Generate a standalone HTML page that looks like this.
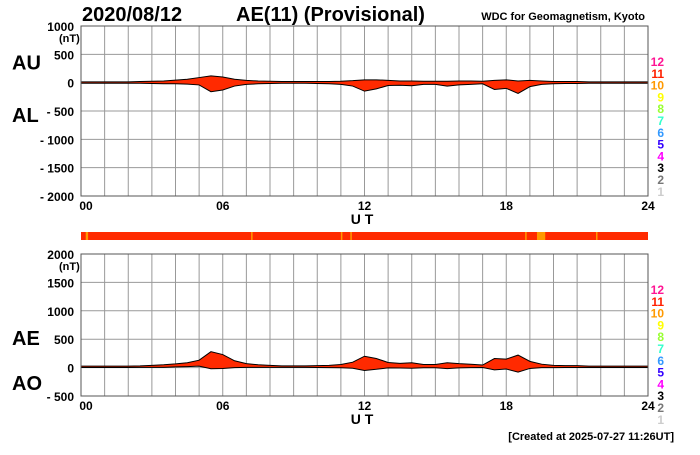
<!DOCTYPE html>
<html><head><meta charset="utf-8"><style>
body{margin:0;background:#fff;width:700px;height:450px;overflow:hidden;font-family:"Liberation Sans",sans-serif}
svg text{font-family:"Liberation Sans",sans-serif;font-weight:bold}
</style></head><body>
<svg id="c" width="700" height="450" xmlns="http://www.w3.org/2000/svg"></svg>
<script>
const hours=[0,0.5,1,1.5,2,2.5,3,3.5,4,4.5,5,5.5,6,6.5,7,7.5,8,8.5,9,9.5,10,10.5,11,11.5,12,12.5,13,13.5,14,14.5,15,15.5,16,16.5,17,17.5,18,18.5,19,19.5,20,20.5,21,21.5,22,22.5,23,23.5,24];
const auValues=[15,15,15,15,15,20,25,30,45,60,90,120,100,60,40,30,25,20,20,20,20,20,25,35,50,50,40,30,30,25,25,25,30,30,25,40,50,30,40,30,20,20,20,15,15,15,15,15,15];
const alValues=[-10,-10,-10,-10,-10,-10,-15,-20,-20,-25,-40,-160,-130,-60,-30,-20,-15,-10,-10,-10,-15,-20,-30,-60,-150,-110,-50,-45,-55,-30,-30,-60,-40,-30,-20,-120,-100,-190,-70,-30,-20,-15,-15,-10,-10,-10,-10,-10,-10];
const xTicks=["00","06","12","18","24"];
const yTicks1=[1000,500,0,-500,-1000,-1500,-2000];
const yTicks2=[2000,1500,1000,500,0,-500];
const legendNums=["12","11","10","9","8","7","6","5","4","3","2","1"];
const legendCols=["#ff1493","#ff2000","#ff9900","#ffff00","#99ff33","#33ffcc","#3399ff","#3300ff","#ff00ff","#000","#777","#ccc"];
const NS="http://www.w3.org/2000/svg",svg=document.getElementById('c');
function el(t,a,txt,p){const e=document.createElementNS(NS,t);for(const k in a)e.setAttribute(k,a[k]);if(txt!==undefined)e.textContent=txt;(p||svg).appendChild(e);return e;}
const X0=81,X1=648;
const x=h=>X0+(X1-X0)*h/24;
function panel(name,top,bot,vmax,vmin,ticks,upper,lower,labs){
  const g=el('g',{});
  const y=v=>top+(vmax-v)*(bot-top)/(vmax-vmin);
  for(let h=0;h<=24;h++){const l=el('line',{x1:x(h),x2:x(h),y1:top,y2:bot,stroke:'#999','stroke-width':1},undefined,g);}
  ticks.forEach(v=>{const l=el('line',{x1:X0,x2:X1,y1:y(v),y2:y(v),stroke:'#999','stroke-width':1},undefined,g);
    const t=el('text',{x:74,y:y(v)+5,'text-anchor':'end','font-size':12},(v<0?'- '+(-v):v),g);});
  const u=el('text',{x:59,y:y(ticks[0])+16,'font-size':11},'(nT)',g);
  let d='M'+hours.map((h,i)=>x(h)+','+y(upper[i])).join('L');
  d+='L'+hours.slice().reverse().map((h,j)=>x(h)+','+y(lower[hours.length-1-j])).join('L')+'Z';
  const p=el('path',{d:d,fill:'#ff2a00',stroke:'#000','stroke-width':1},undefined,g);
  el('rect',{x:X0,y:top,width:X1-X0,height:bot-top,fill:'none',stroke:'#555'},undefined,g);
  xTicks.forEach((t,i)=>{const tx=el('text',{x:x(i*6)+(i==0?5:0),y:bot+14,'text-anchor':'middle','font-size':12},t,g);});
  const ut=el('text',{x:362,y:bot+28,'text-anchor':'middle','font-size':14},'U T',g);
  const a=el('text',{x:12,y:y(labs[2]),'font-size':20},labs[0],g);
  const b=el('text',{x:12,y:y(labs[3]),'font-size':20},labs[1],g);
  legendNums.forEach((n,i)=>{const t=el('text',{x:664,y:top+40+i*11.8,'text-anchor':'end','font-size':12,fill:legendCols[i]},n,g);});
}
panel('au-al-panel',26,196,1000,-2000,yTicks1,auValues,alValues,['AU','AL',230,-690]);
const ae=auValues.map((v,i)=>v-alValues[i]);
const ao=auValues.map((v,i)=>(v+alValues[i])/2);
panel('ae-ao-panel',254,396,2000,-500,yTicks2,ae,ao,['AE','AO',398,-394]);
const tt=el('text',{x:82,y:21,'font-size':20},'2020/08/12');
const t2=el('text',{x:236,y:21,'font-size':20},'AE(11) (Provisional)');
const t3=el('text',{x:645,y:20,'font-size':11,'text-anchor':'end'},'WDC for Geomagnetism, Kyoto');
const t4=el('text',{x:674,y:440,'font-size':11,'text-anchor':'end'},'[Created at 2025-07-27 11:26UT]');
const bar=el('rect',{x:X0,y:232,width:X1-X0,height:8,fill:'#ff2a00'});
[[0.2,0.1],[7.2,0.05],[11,0.05],[11.4,0.05],[18.8,0.05],[19.3,0.35],[21.8,0.05]].forEach(s=>{const r=el('rect',{x:x(s[0]),y:232,width:Math.max(1.5,x(s[1])-X0),height:8,fill:'#ff9900'});});
</script>
</body></html>
